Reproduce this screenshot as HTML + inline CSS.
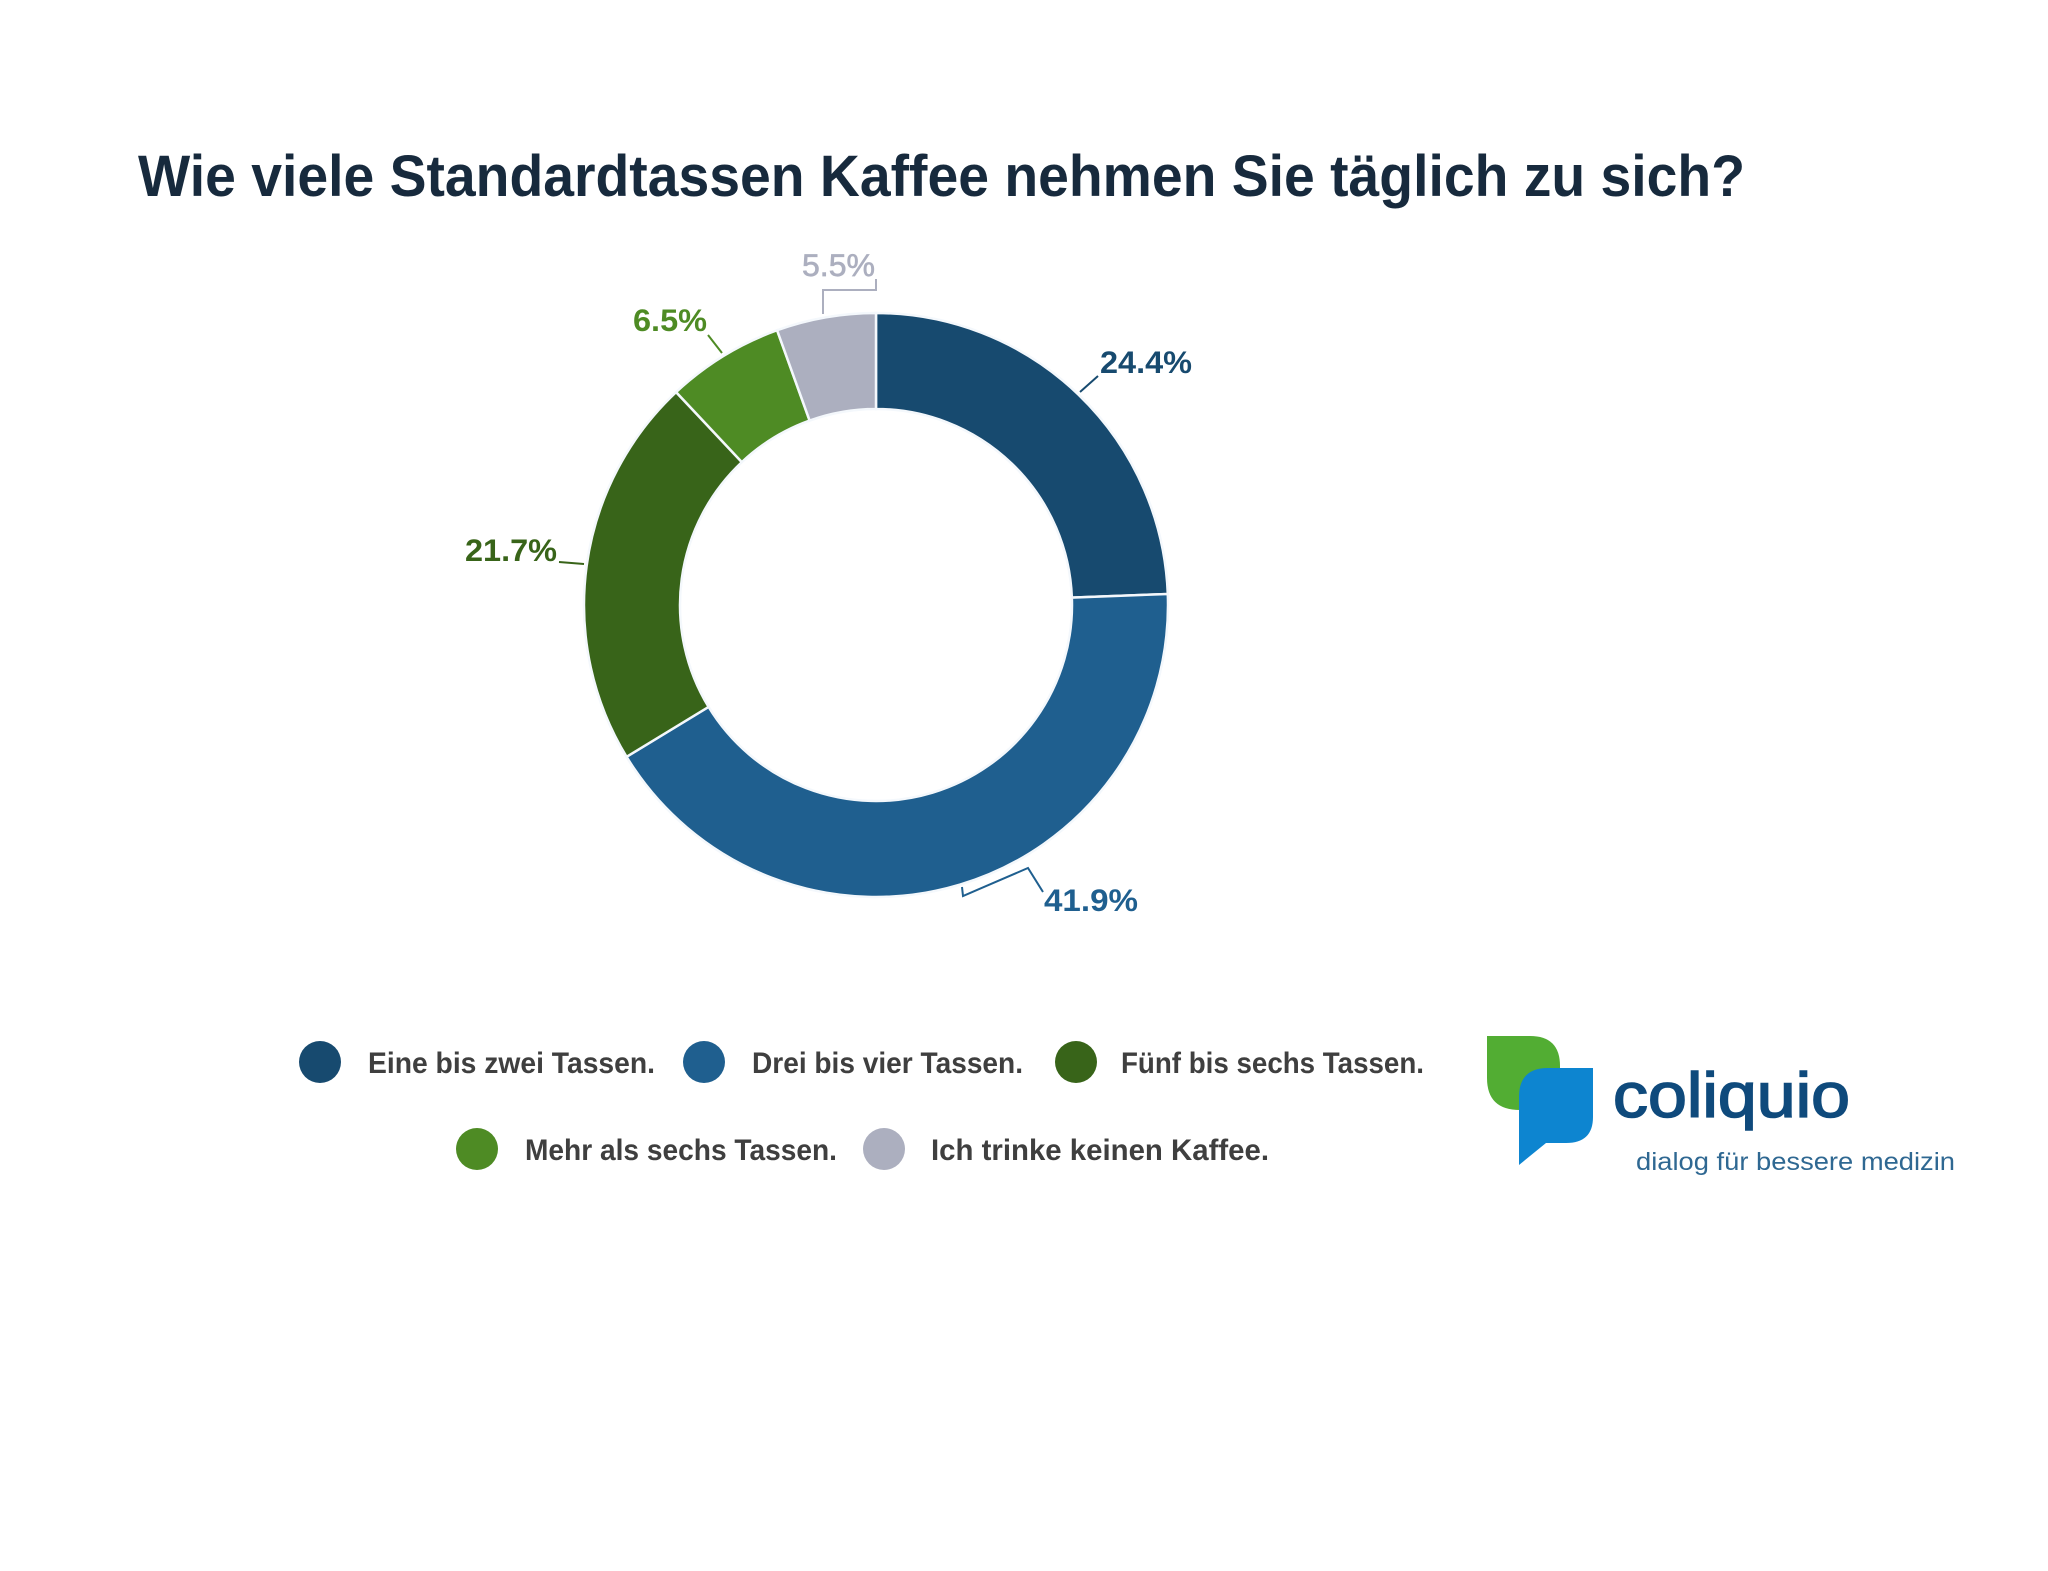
<!DOCTYPE html>
<html>
<head>
<meta charset="utf-8">
<style>
  html,body{margin:0;padding:0;background:#ffffff;}
  body{width:2048px;height:1571px;overflow:hidden;}
  svg{display:block;}
  text{font-family:"Liberation Sans", Arial, sans-serif;}
</style>
</head>
<body>
<svg width="2048" height="1571" viewBox="0 0 2048 1571" xmlns="http://www.w3.org/2000/svg">
  <rect x="0" y="0" width="2048" height="1571" fill="#ffffff"/>

  <!-- Title -->
  <text x="138" y="196" font-size="58" font-weight="bold" fill="#172a3d" textLength="1607" lengthAdjust="spacingAndGlyphs">Wie viele Standardtassen Kaffee nehmen Sie täglich zu sich?</text>

  <!-- Donut -->
  <g stroke="#f4f8fc" stroke-width="2.5" stroke-linejoin="miter">
    <path d="M876,313 A292,292 0 0 1 1167.79,593.99 L1071.86,597.61 A196,196 0 0 0 876,409 Z" fill="#174a6f"/>
    <path d="M1167.79,593.99 A292,292 0 0 1 626.56,756.80 L708.57,706.89 A196,196 0 0 0 1071.86,597.61 Z" fill="#1f5f8f"/>
    <path d="M626.56,756.80 A292,292 0 0 1 676.11,392.14 L741.83,462.12 A196,196 0 0 0 708.57,706.89 Z" fill="#386419"/>
    <path d="M676.11,392.14 A292,292 0 0 1 777.09,330.26 L809.61,420.59 A196,196 0 0 0 741.83,462.12 Z" fill="#4e8b24"/>
    <path d="M777.09,330.26 A292,292 0 0 1 876,313 L876,409 A196,196 0 0 0 809.61,420.59 Z" fill="#acafbf"/>
  </g>

  <!-- Leader lines -->
  <g fill="none" stroke-width="2">
    <polyline points="876,279 876,290 823,290 823,314" stroke="#acafbf"/>
    <polyline points="708,335 722,353" stroke="#4e8b24"/>
    <polyline points="1080,392 1098,376" stroke="#174a6f"/>
    <polyline points="559,562 584,564" stroke="#386419"/>
    <polyline points="962,887 963,896 1028,868 1043,892" stroke="#1f5f8f"/>
  </g>

  <!-- Percentage labels -->
  <g transform="translate(0,276) scale(1,1.05) translate(0,-276)">
    <text x="802" y="276" font-size="30" fill="#acafbf" textLength="73" lengthAdjust="spacingAndGlyphs" stroke="#acafbf" stroke-width="0.6">5.5%</text>
  </g>
  <g transform="translate(0,331) scale(1,1.05) translate(0,-331)">
    <text x="633" y="331" font-size="30" font-weight="bold" fill="#4e8b24" textLength="74" lengthAdjust="spacingAndGlyphs">6.5%</text>
  </g>
  <g transform="translate(0,373) scale(1,1.05) translate(0,-373)">
    <text x="1100" y="373" font-size="30" font-weight="bold" fill="#174a6f" textLength="92" lengthAdjust="spacingAndGlyphs">24.4%</text>
  </g>
  <g transform="translate(0,561) scale(1,1.05) translate(0,-561)">
    <text x="465" y="561" font-size="30" font-weight="bold" fill="#386419" textLength="92" lengthAdjust="spacingAndGlyphs">21.7%</text>
  </g>
  <g transform="translate(0,911) scale(1,1.05) translate(0,-911)">
    <text x="1044" y="911" font-size="30" font-weight="bold" fill="#1f5f8f" textLength="94" lengthAdjust="spacingAndGlyphs">41.9%</text>
  </g>

  <!-- Legend -->
  <g font-size="30" font-weight="bold" fill="#3f3f3f">
    <circle cx="320" cy="1062" r="21" fill="#174a6f"/>
    <text x="368" y="1073" textLength="287" lengthAdjust="spacingAndGlyphs">Eine bis zwei Tassen.</text>
    <circle cx="704" cy="1062" r="21" fill="#1f5f8f"/>
    <text x="752" y="1073" textLength="271" lengthAdjust="spacingAndGlyphs">Drei bis vier Tassen.</text>
    <circle cx="1076" cy="1062" r="21" fill="#386419"/>
    <text x="1121" y="1073" textLength="303" lengthAdjust="spacingAndGlyphs">Fünf bis sechs Tassen.</text>
    <circle cx="477" cy="1149" r="21" fill="#4e8b24"/>
    <text x="525" y="1160" textLength="312" lengthAdjust="spacingAndGlyphs">Mehr als sechs Tassen.</text>
    <circle cx="884" cy="1149" r="21" fill="#acafbf"/>
    <text x="931" y="1160" textLength="338" lengthAdjust="spacingAndGlyphs">Ich trinke keinen Kaffee.</text>
  </g>

  <!-- Logo -->
  <path d="M1487,1036 L1530,1036 Q1560,1036 1560,1066 L1560,1110 L1520,1110 Q1487,1110 1487,1078 Z" fill="#52ad33"/>
  <path d="M1593,1068 L1593,1117 Q1593,1143 1566,1143 L1546,1143 L1519,1165 L1519,1097 Q1519,1068 1548,1068 Z" fill="#0d85d0"/>
  <text x="1613" y="1117" font-size="63" fill="#0f4a7c" stroke="#0f4a7c" stroke-width="1.6" textLength="237" lengthAdjust="spacingAndGlyphs">coliquio</text>
  <text x="1636" y="1170" font-size="25" fill="#2f6892" textLength="319" lengthAdjust="spacingAndGlyphs">dialog für bessere medizin</text>
</svg>
</body>
</html>
